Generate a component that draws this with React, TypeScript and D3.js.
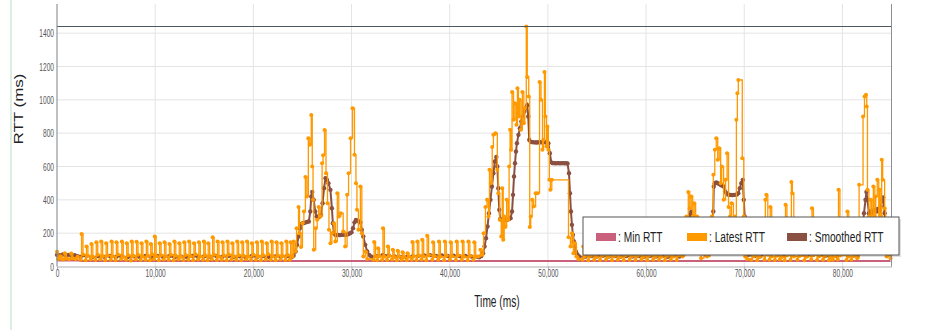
import { useEffect, useRef } from "react";
import * as d3 from "d3";

// [time ms, rtt ms]
const minRtt: [number, number][] = [[0, 36], [2400, 33], [84900, 33]];

const latestRtt: [number, number][] = [
  [0, 88], [100, 45], [350, 62], [600, 42], [800, 80], [950, 48], [1250, 44], [1450, 78], [1600, 50], [1900, 45], [2100, 58],
  [2420, 40], [2500, 195], [2650, 72], [2920, 38], [3000, 120], [3150, 64], [3420, 42], [3500, 135], [3650, 58],
  [3920, 39], [4000, 145], [4150, 70], [4420, 44], [4500, 150], [4650, 62], [4920, 37], [5000, 140], [5150, 66],
  [5470, 41], [5550, 150], [5700, 60], [5970, 38], [6050, 145], [6200, 72], [6520, 43], [6600, 150], [6750, 57],
  [7020, 40], [7100, 140], [7250, 68], [7520, 36], [7600, 150], [7750, 63], [8020, 42], [8100, 148], [8250, 70],
  [8520, 39], [8600, 140], [8750, 59], [9020, 41], [9100, 150], [9250, 66], [9470, 38], [9550, 135], [9700, 74],
  [9870, 44], [9950, 180], [10100, 62], [10370, 37], [10450, 140], [10600, 68], [10870, 42], [10950, 145], [11100, 60],
  [11370, 40], [11450, 135], [11600, 71], [11870, 38], [11950, 150], [12100, 64], [12370, 43], [12450, 140], [12600, 58],
  [12870, 39], [12950, 145], [13100, 69], [13370, 41], [13450, 150], [13600, 62], [13870, 37], [13950, 140], [14100, 73],
  [14370, 42], [14450, 145], [14600, 60], [14870, 40], [14950, 150], [15100, 67], [15320, 38], [15400, 140], [15550, 63],
  [15770, 44], [15850, 175], [16000, 70], [16270, 39], [16350, 150], [16500, 58], [16770, 41], [16850, 145], [17000, 66],
  [17270, 37], [17350, 150], [17500, 72], [17770, 42], [17850, 140], [18000, 61], [18270, 40], [18350, 150], [18500, 68],
  [18770, 38], [18850, 145], [19000, 64], [19270, 43], [19350, 150], [19500, 59], [19770, 39], [19850, 140], [20000, 70],
  [20270, 41], [20350, 145], [20500, 62], [20770, 37], [20850, 150], [21000, 67], [21270, 42], [21350, 140], [21500, 73],
  [21770, 40], [21850, 150], [22000, 60], [22270, 38], [22350, 145], [22500, 66], [22770, 43], [22850, 140], [23000, 63],
  [23270, 39], [23350, 150], [23500, 69], [23720, 41], [23800, 145], [23950, 58],
  // first burst
  [24100, 150], [24250, 90], [24400, 230], [24600, 357], [24700, 200], [24850, 117], [25000, 260], [25150, 330],
  [25300, 537], [25450, 420], [25600, 770], [25750, 730], [25900, 909], [26000, 600], [26080, 400], [26150, 100],
  [26350, 230], [26500, 280], [26650, 357], [26800, 300], [27000, 620], [27100, 668], [27250, 819], [27400, 560],
  [27550, 380], [27700, 220], [27850, 140], [28000, 200], [28200, 260], [28350, 150], [28550, 440], [28700, 300],
  [28900, 320], [29150, 210], [29350, 120], [29550, 430], [29700, 560], [29900, 770], [30100, 950], [30300, 670],
  [30450, 500], [30550, 340], [30700, 220], [30900, 480], [31050, 200], [31200, 60], [31400, 90], [31600, 45],
  [32220, 40], [32300, 147], [32450, 60], [32620, 38], [32700, 110], [32850, 62], [33120, 41], [33200, 230], [33350, 58],
  [33620, 39], [33700, 120], [33850, 64], [34120, 42], [34200, 100], [34350, 57], [34620, 38], [34700, 95], [34850, 60],
  [35120, 40], [35200, 85], [35350, 55], [35620, 37], [35700, 80], [35850, 58], [36120, 41], [36200, 147], [36350, 62],
  [36620, 39], [36700, 150], [36850, 66], [37120, 42], [37200, 160], [37350, 60], [37620, 38], [37700, 185], [37850, 68],
  [38220, 40], [38300, 145], [38450, 62], [38820, 41], [38900, 150], [39050, 59], [39420, 37], [39500, 150], [39650, 64],
  [40020, 42], [40100, 145], [40250, 61], [40620, 39], [40700, 150], [40850, 66], [41220, 41], [41300, 150], [41450, 58],
  [41820, 38], [41900, 150], [42050, 63], [42420, 40], [42500, 145], [42650, 60],
  // second burst
  [42900, 60], [43130, 100], [43300, 70], [43450, 200], [43640, 357], [43800, 400], [43950, 300], [44050, 580],
  [44200, 500], [44330, 717], [44450, 790], [44650, 800], [44850, 580], [44950, 440], [45100, 280], [45250, 180],
  [45350, 470], [45450, 160], [45550, 300], [45650, 237], [45800, 400], [45950, 280], [46050, 600], [46150, 820],
  [46250, 700], [46350, 1047], [46500, 880], [46650, 980], [46800, 850], [46900, 1070], [47000, 900], [47100, 1000],
  [47250, 820], [47400, 1047], [47550, 860], [47650, 950], [47800, 1440], [47900, 1137], [48050, 1020], [48150, 237],
  [48250, 300], [48400, 400], [48550, 360], [48750, 440], [48950, 440], [49150, 1107], [49300, 1000], [49450, 700],
  [49550, 760], [49650, 1167], [49750, 900], [49850, 720], [49950, 840], [50050, 700], [50150, 520], [50250, 460],
  [50400, 520], [52100, 176], [52300, 120], [52450, 200], [52600, 80], [52750, 140], [52900, 60], [53100, 45],
  [53520, 40], [53600, 120], [53750, 60], [54120, 38], [54200, 180], [54350, 64], [54720, 41], [54800, 150], [54950, 58],
  [55320, 39], [55400, 200], [55550, 66], [55920, 42], [56000, 140], [56150, 60], [56520, 38], [56600, 170], [56750, 63],
  [57120, 40], [57200, 130], [57350, 57], [57720, 37], [57800, 190], [57950, 68], [58320, 41], [58400, 150], [58550, 61],
  [58920, 39], [59000, 160], [59150, 65], [59520, 42], [59600, 140], [59750, 59], [60120, 38], [60200, 180], [60350, 66],
  [60720, 40], [60800, 150], [60950, 62], [61320, 41], [61400, 170], [61550, 58], [61920, 37], [62000, 140], [62150, 64],
  [62520, 42], [62600, 200], [62750, 60], [63120, 39], [63200, 160], [63350, 67],
  // third burst
  [63700, 60], [63900, 200], [64100, 300], [64300, 447], [64450, 350], [64600, 420], [64750, 300], [64900, 380],
  [65050, 250], [65200, 300], [65350, 80], [65600, 50], [65900, 120], [66200, 60], [66500, 90], [66700, 300],
  [66850, 550], [67000, 700], [67150, 770], [67300, 640], [67450, 710], [67600, 500], [67700, 600], [67900, 400],
  [68100, 520], [68250, 680], [68400, 357], [68550, 300], [68700, 380], [68900, 250], [69050, 300], [69200, 880],
  [69300, 1040], [69400, 1119], [69800, 650], [69950, 300], [70100, 60], [70300, 45],
  [70720, 40], [70800, 150], [70950, 62], [71320, 38], [71400, 120], [71550, 58], [72070, 40], [72150, 400], [72250, 430],
  [72400, 70], [72570, 41], [72650, 357], [72800, 60], [73120, 39], [73200, 140], [73350, 64], [73620, 42], [73700, 120],
  [73850, 57], [74120, 38], [74200, 370], [74350, 66], [74720, 40], [74800, 507], [74900, 440], [75050, 60],
  [75420, 41], [75500, 150], [75650, 63], [76120, 37], [76200, 130], [76350, 59], [76820, 42], [76900, 350], [77050, 68],
  [77420, 39], [77500, 140], [77650, 61], [78020, 41], [78100, 120], [78250, 65], [78620, 38], [78700, 150], [78850, 58],
  [79020, 40], [79100, 130], [79250, 62], [79520, 42], [79600, 460], [79750, 66], [80420, 39], [80500, 330], [80650, 60],
  [80920, 41], [81000, 140], [81150, 63],
  // fourth burst
  [81500, 50], [81700, 490], [82100, 900], [82250, 1020], [82400, 1030], [82480, 960], [82550, 460], [82700, 300],
  [82900, 400], [83000, 200], [83150, 480], [83300, 300], [83400, 420], [83550, 520], [83700, 250], [83800, 460],
  [83950, 300], [84000, 640], [84100, 520], [84300, 350], [84400, 150], [84500, 60], [84700, 90], [84900, 50],
];

const smoothedRtt: [number, number][] = [
  [0, 70], [300, 68], [600, 72], [900, 66], [1200, 70], [1500, 64], [1800, 68], [2100, 62],
  [2400, 58], [3000, 64], [3600, 56], [4200, 62], [4800, 58], [5400, 63], [6000, 57], [6600, 62], [7200, 56], [7800, 61],
  [8400, 58], [9000, 63], [9600, 57], [10200, 64], [10800, 58], [11400, 62], [12000, 56], [12600, 61], [13200, 58],
  [13800, 63], [14400, 57], [15000, 62], [15600, 59], [16200, 64], [16800, 57], [17400, 62], [18000, 58], [18600, 61],
  [19200, 56], [19800, 62], [20400, 58], [21000, 63], [21600, 57], [22200, 61], [22800, 58], [23400, 62],
  [23900, 55], [24100, 65], [24300, 90], [24450, 130], [24600, 180], [24750, 230], [24900, 255], [25050, 260],
  [25200, 262], [25350, 265], [25500, 268], [25650, 270], [25800, 330], [25900, 420], [26000, 447], [26150, 400],
  [26300, 330], [26450, 300], [26600, 295], [26750, 300], [26900, 310], [27050, 380], [27200, 470], [27350, 530],
  [27500, 520], [27650, 500], [27850, 460], [28000, 350], [28100, 260], [28200, 200], [28350, 190], [28500, 188],
  [28650, 190], [28800, 188], [28950, 190], [29100, 192], [29250, 190], [29400, 190], [29550, 192], [29700, 195],
  [29850, 200], [30000, 205], [30150, 230], [30300, 265], [30450, 280], [30600, 275], [30750, 270], [30900, 265],
  [31050, 220], [31200, 180], [31400, 130], [31600, 90], [31800, 70], [32000, 60],
  [32600, 62], [33200, 70], [33800, 66], [34400, 60], [35000, 58], [35600, 56], [36200, 60], [36800, 64], [37400, 66],
  [38000, 68], [38600, 64], [39200, 66], [39800, 63], [40400, 65], [41000, 62], [41600, 64], [42200, 60], [42800, 58],
  [43000, 55], [43200, 62], [43400, 80], [43550, 120], [43700, 170], [43850, 240], [44000, 320], [44150, 400],
  [44300, 480], [44450, 560], [44600, 630], [44750, 657], [44850, 600], [44950, 470], [45050, 340], [45150, 285],
  [45300, 280], [45450, 280], [45600, 278], [45750, 280], [45900, 282], [46050, 285], [46200, 290], [46350, 330],
  [46450, 430], [46550, 540], [46650, 620], [46750, 690], [46850, 740], [47000, 790], [47150, 830], [47300, 870],
  [47450, 900], [47600, 930], [47750, 950], [47900, 968], [48000, 900], [48100, 760], [48250, 748], [48400, 746],
  [48550, 745], [48700, 745], [48850, 744], [49000, 745], [49150, 746], [49300, 745], [49450, 745], [49600, 746],
  [49750, 745], [49900, 744], [50050, 740], [50200, 680], [50350, 625], [50500, 620], [50650, 620], [50800, 619],
  [50950, 620], [51100, 620], [51250, 619], [51400, 620], [51550, 620], [51700, 619], [51850, 620], [52000, 618],
  [52150, 560], [52250, 440], [52350, 330], [52450, 250], [52550, 190], [52650, 150], [52750, 115], [52850, 90],
  [53000, 72], [53200, 60],
  [53800, 58], [54400, 62], [55000, 60], [55600, 64], [56200, 60], [56800, 62], [57400, 58], [58000, 63], [58600, 60],
  [59200, 62], [59800, 58], [60400, 63], [61000, 60], [61600, 62], [62200, 58], [62800, 63], [63400, 60],
  [63800, 70], [64000, 110], [64200, 180], [64350, 250], [64500, 310], [64600, 327], [64750, 300], [64900, 260],
  [65100, 200], [65300, 140], [65500, 100], [65800, 80], [66100, 70], [66400, 75], [66600, 110], [66750, 250],
  [66850, 330], [66900, 480], [67000, 500], [67150, 505], [67300, 500], [67450, 495], [67600, 490], [67750, 485],
  [67900, 480], [68050, 450], [68200, 440], [68350, 432], [68500, 430], [68650, 430], [68800, 428], [68950, 430],
  [69100, 430], [69250, 432], [69400, 440], [69550, 470], [69700, 500], [69850, 520], [69950, 400], [70050, 300],
  [70150, 180], [70250, 100], [70400, 70],
  [71000, 62], [71600, 60], [72200, 80], [72400, 90], [72800, 85], [73400, 70], [74000, 66], [74400, 80], [74900, 100],
  [75200, 90], [75800, 72], [76400, 64], [77000, 80], [77600, 70], [78200, 62], [78800, 60], [79400, 64], [79700, 95],
  [80200, 80], [80600, 85], [81200, 66],
  [81600, 70], [81800, 130], [82000, 210], [82200, 320], [82350, 400], [82450, 447], [82550, 400], [82700, 320],
  [82850, 330], [83000, 320], [83150, 335], [83300, 340], [83450, 330], [83600, 345], [83750, 330], [83900, 360],
  [84050, 400], [84150, 415], [84300, 320], [84450, 220], [84600, 150], [84750, 100], [84900, 75],
];

const xTicks = [0, 10000, 20000, 30000, 40000, 50000, 60000, 70000, 80000];
const yTicks = [0, 200, 400, 600, 800, 1000, 1200, 1400];

const legendItems = [
  { label: ": Min RTT", color: "#c9607c" },
  { label: ": Latest RTT", color: "#ff9900" },
  { label: ": Smoothed RTT", color: "#8a5042" },
];

const FONT = "'Liberation Sans', Arial, sans-serif";

export default function App() {
  const ref = useRef<SVGSVGElement>(null);

  useEffect(() => {
    const width = 928;
    const height = 330;
    const left = 57;
    const right = 891.5;
    const top = 4;
    const bottom = 266.5;

    const svg = d3.select(ref.current);
    svg.selectAll("*").remove();
    svg.attr("width", width).attr("height", height).attr("viewBox", [0, 0, width, height]);

    const x = d3.scaleLinear().domain([0, 85000]).range([left, right]);
    const yMax = d3.max(latestRtt, (d) => d[1]) as number;
    const y = d3.scaleLinear().domain([0, yMax]).range([bottom, 26.5]);

    // page edge
    svg.append("line")
      .attr("x1", 11).attr("x2", 11).attr("y1", 0).attr("y2", height)
      .attr("stroke", "#dcefe3").attr("stroke-width", 2);

    // grid
    svg.append("g")
      .selectAll("line")
      .data(yTicks.filter((d) => d > 0))
      .join("line")
      .attr("x1", left).attr("x2", right)
      .attr("y1", (d) => y(d)).attr("y2", (d) => y(d))
      .attr("stroke", "#e4e4e4");
    svg.append("g")
      .selectAll("line")
      .data(xTicks.filter((d) => d > 0))
      .join("line")
      .attr("x1", (d) => x(d)).attr("x2", (d) => x(d))
      .attr("y1", top).attr("y2", bottom)
      .attr("stroke", "#e4e4e4");

    // series
    const line = (curve: d3.CurveFactory) =>
      d3.line<[number, number]>().x((d) => x(d[0])).y((d) => y(d[1])).curve(curve);

    svg.append("path")
      .attr("fill", "none")
      .attr("stroke", legendItems[0].color)
      .attr("stroke-width", 2)
      .attr("d", line(d3.curveStepAfter)(minRtt));

    // smoothed underneath, latest on top
    svg.append("path")
      .attr("fill", "none")
      .attr("stroke", legendItems[2].color)
      .attr("stroke-width", 2)
      .attr("d", line(d3.curveLinear)(smoothedRtt));
    svg.append("g")
      .attr("fill", legendItems[2].color)
      .selectAll("circle")
      .data(smoothedRtt)
      .join("circle")
      .attr("cx", (d) => x(d[0]))
      .attr("cy", (d) => y(d[1]))
      .attr("r", 2.2);

    svg.append("path")
      .attr("fill", "none")
      .attr("stroke", legendItems[1].color)
      .attr("stroke-width", 1.3)
      .attr("d", line(d3.curveStepAfter)(latestRtt));
    svg.append("g")
      .attr("fill", legendItems[1].color)
      .selectAll("circle")
      .data(latestRtt)
      .join("circle")
      .attr("cx", (d) => x(d[0]))
      .attr("cy", (d) => y(d[1]))
      .attr("r", 2);

    // frame
    svg.append("line")
      .attr("x1", left).attr("x2", right).attr("y1", y(yMax)).attr("y2", y(yMax))
      .attr("stroke", "#4d5860").attr("stroke-width", 1.2);
    svg.append("line")
      .attr("x1", left).attr("x2", left).attr("y1", top).attr("y2", bottom)
      .attr("stroke", "#7a8288");
    svg.append("line")
      .attr("x1", right).attr("x2", right).attr("y1", top).attr("y2", bottom)
      .attr("stroke", "#8a9096");

    // axes
    const xAxis = svg.append("g")
      .attr("transform", `translate(0,${bottom})`)
      .call(d3.axisBottom(x).tickValues(xTicks).tickSize(3).tickSizeOuter(0).tickPadding(0).tickFormat(d3.format(",")));
    xAxis.select(".domain").attr("stroke", "#b0b0b0");
    xAxis.selectAll(".tick line").attr("stroke", "#b0b0b0");
    xAxis.selectAll(".tick text")
      .attr("font-family", FONT).attr("font-size", 11).attr("fill", "#555")
      .attr("transform", "scale(0.6,1)");

    const yAxis = svg.append("g")
      .attr("transform", `translate(${left},0)`)
      .call(d3.axisLeft(y).tickValues(yTicks).tickSize(0).tickFormat(d3.format("d")));
    yAxis.select(".domain").remove();
    yAxis.selectAll(".tick text")
      .attr("font-family", FONT).attr("font-size", 11).attr("fill", "#555")
      .attr("x", -3 / 0.6)
      .attr("transform", "scale(0.6,1)");

    svg.append("text")
      .attr("transform", "translate(497,307) scale(0.6,1)")
      .attr("text-anchor", "middle")
      .attr("font-family", FONT).attr("font-size", 17).attr("fill", "#222")
      .text("Time (ms)");
    svg.append("text")
      .attr("transform", "translate(23,109) scale(0.7,1) rotate(-90)")
      .attr("text-anchor", "middle")
      .attr("font-family", FONT).attr("font-size", 17).attr("fill", "#222")
      .text("RTT (ms)");

    // legend
    const legend = svg.append("g").attr("transform", "translate(583,217)");
    legend.append("rect")
      .attr("x", 2).attr("y", 2).attr("width", 316).attr("height", 38)
      .attr("fill", "#000").attr("opacity", 0.12);
    legend.append("rect")
      .attr("width", 316).attr("height", 38)
      .attr("fill", "#fff").attr("stroke", "#555");
    const itemX = [13, 104, 204];
    const item = legend.selectAll("g.item")
      .data(legendItems)
      .join("g")
      .attr("class", "item")
      .attr("transform", (_, i) => `translate(${itemX[i]},0)`);
    item.append("rect")
      .attr("y", 16).attr("width", 20).attr("height", 8)
      .attr("fill", (d) => d.color);
    item.append("text")
      .attr("transform", "translate(22,25) scale(0.68,1)")
      .attr("font-family", FONT).attr("font-size", 15).attr("fill", "#222")
      .text((d) => d.label);
  }, []);

  return <svg ref={ref} style={{ position: "absolute", left: 0, top: 0 }} />;
}
